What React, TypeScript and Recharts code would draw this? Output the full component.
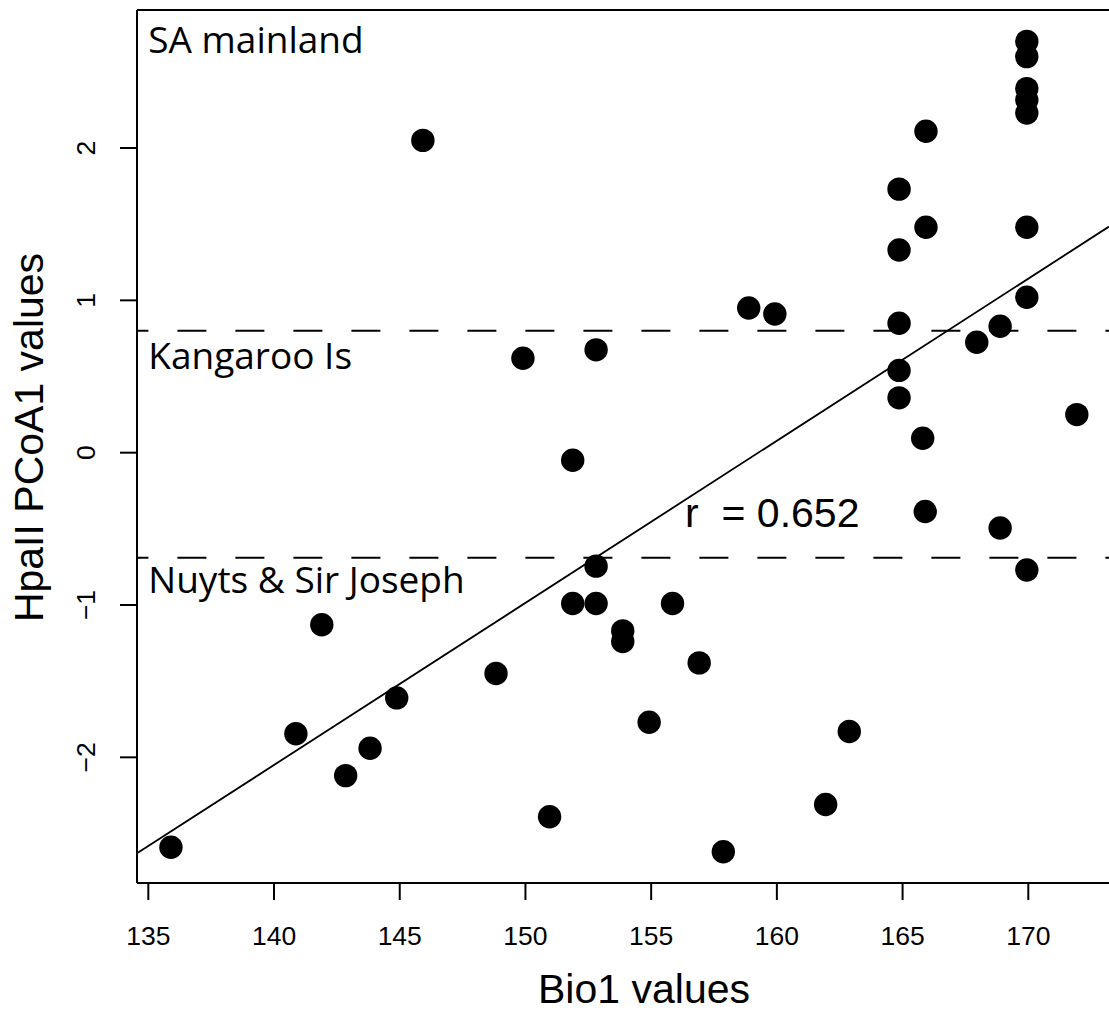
import React from 'react';
import {
  ScatterChart,
  Scatter,
  XAxis,
  YAxis,
  ReferenceLine,
  ReferenceDot,
  Label,
} from 'recharts';

// Bio1 (x) and HpaII PCoA1 (y) values
const bioValues = [
  135.9, 140.87, 141.9, 142.85, 143.82, 144.88, 145.92, 148.83, 149.9, 150.96,
  151.88, 151.88, 152.81, 152.81, 152.81, 153.87, 153.87, 154.92, 155.85, 156.91,
  157.87, 158.88, 159.92, 161.94, 162.88, 164.86, 164.86, 164.86, 164.86, 164.86,
  165.8, 165.93, 165.93, 165.9, 167.95, 168.88, 168.88, 169.94, 169.94, 169.94,
  169.94, 169.94, 169.94, 169.94, 169.94, 171.93,
];
const pcoaValues = [
  -2.59, -1.845, -1.13, -2.12, -1.94, -1.61, 2.05, -1.45, 0.62, -2.39,
  -0.05, -0.99, 0.675, -0.745, -0.99, -1.17, -1.24, -1.77, -0.99, -1.38,
  -2.62, 0.95, 0.91, -2.31, -1.83, 1.73, 1.33, 0.85, 0.54, 0.36,
  0.095, 2.11, 1.48, -0.386, 0.725, 0.83, -0.495, 2.7, 2.6, 2.39,
  2.315, 2.23, 1.48, 1.02, -0.77, 0.25,
];

// regression line end points
const fitX = [134.55, 173.21];
const fitY = [-2.63, 1.484];

// region thresholds (dashed lines)
const thresholds = [0.8, -0.69];

const xTicks = [135, 140, 145, 150, 155, 160, 165, 170];
const yTicks = [-2, -1, 0, 1, 2];

const regionLabels = [
  { text: 'SA mainland', x: 135, y: 2.625 },
  { text: 'Kangaroo Is', x: 135, y: 0.548 },
  { text: 'Nuyts & Sir Joseph', x: 135, y: -0.922 },
];
const corrLabel = { text: 'r  = 0.652', x: 156.35, y: -0.491 };

const xDomain = [134.55, 173.21];
const yDomain = [-2.825, 2.906];

const data = bioValues.map((x, i) => ({ x, y: pcoaValues[i] }));

const axisFont = '"Liberation Sans", Arial, Helvetica, sans-serif';
const noteFont = '"Open Sans", "Noto Sans", sans-serif';

const YTick = (props: any) => {
  const { x, y, payload } = props;
  const v = payload.value;
  const txt = v < 0 ? '\u2212' + Math.abs(v) : String(v);
  return (
    <text
      x={x}
      y={y}
      transform={`rotate(-90, ${x}, ${y})`}
      textAnchor="middle"
      fontSize={26.5}
      fontFamily={axisFont}
      fill="#000"
    >
      {txt}
    </text>
  );
};

const Dot = (props: any) => <circle cx={props.cx} cy={props.cy} r={11.7} fill="#000" />;

const App: React.FC = () => {
  return (
    <div style={{ position: 'absolute', left: 0, top: 0, background: '#fff' }}>
      <ScatterChart width={1109} height={1012} margin={{ top: 10, right: 0, bottom: 0, left: 0 }}>
        <XAxis
          type="number"
          dataKey="x"
          domain={xDomain}
          ticks={xTicks}
          interval={0}
          allowDataOverflow
          height={129}
          tickSize={17}
          tickMargin={26.5}
          axisLine={{ stroke: '#000', strokeWidth: 2 }}
          tickLine={{ stroke: '#000', strokeWidth: 2 }}
          tick={{ fill: '#000', fontSize: 26.5, fontFamily: axisFont }}
        >
          <Label
            content={(p: any) => (
              <text
                x={p.viewBox.x + 507}
                y={p.viewBox.y + 120}
                textAnchor="middle"
                fontSize={41}
                fontFamily={axisFont}
                fill="#000"
              >
                Bio1 values
              </text>
            )}
          />
        </XAxis>
        <YAxis
          type="number"
          dataKey="y"
          domain={yDomain}
          ticks={yTicks}
          interval={0}
          allowDataOverflow
          width={137}
          tickSize={17}
          tickMargin={25}
          axisLine={{ stroke: '#000', strokeWidth: 2 }}
          tickLine={{ stroke: '#000', strokeWidth: 2 }}
          tick={<YTick />}
        >
          <Label
            content={(p: any) => {
              const lx = p.viewBox.x + 43;
              const ly = p.viewBox.y + 427.5;
              return (
                <text
                  x={lx}
                  y={ly}
                  transform={`rotate(-90, ${lx}, ${ly})`}
                  textAnchor="middle"
                  fontSize={41}
                  fontFamily={axisFont}
                  fill="#000"
                >
                  HpaII PCoA1 values
                </text>
              );
            }}
          />
        </YAxis>

        {/* box top edge */}
        <ReferenceLine y={yDomain[1]} stroke="#000" strokeWidth={2} />

        {thresholds.map((t) => (
          <ReferenceLine
            key={t}
            y={t}
            stroke="#000"
            strokeWidth={2}
            strokeDasharray="29 29"
            strokeDashoffset={17.6}
          />
        ))}

        <ReferenceLine
          segment={[
            { x: fitX[0], y: fitY[0] },
            { x: fitX[1], y: fitY[1] },
          ]}
          stroke="#000"
          strokeWidth={1.8}
          ifOverflow="visible"
        />

        <Scatter data={data} shape={<Dot />} isAnimationActive={false} />

        {regionLabels.map((l) => (
          <ReferenceDot
            key={l.text}
            x={l.x}
            y={l.y}
            r={0}
            stroke="none"
            fill="none"
            ifOverflow="visible"
            label={{
              content: (p: any) => (
                <text x={p.viewBox.x} y={p.viewBox.y} fontSize={37} fontFamily={noteFont} fill="#000">
                  {l.text}
                </text>
              ),
            }}
          />
        ))}

        <ReferenceDot
          x={corrLabel.x}
          y={corrLabel.y}
          r={0}
          stroke="none"
          fill="none"
          ifOverflow="visible"
          label={{
            content: (p: any) => (
              <text
                x={p.viewBox.x}
                y={p.viewBox.y}
                fontSize={41}
                fontFamily={axisFont}
                fill="#000"
                style={{ whiteSpace: 'pre' }}
              >
                {corrLabel.text}
              </text>
            ),
          }}
        />
      </ScatterChart>
    </div>
  );
};

export default App;
